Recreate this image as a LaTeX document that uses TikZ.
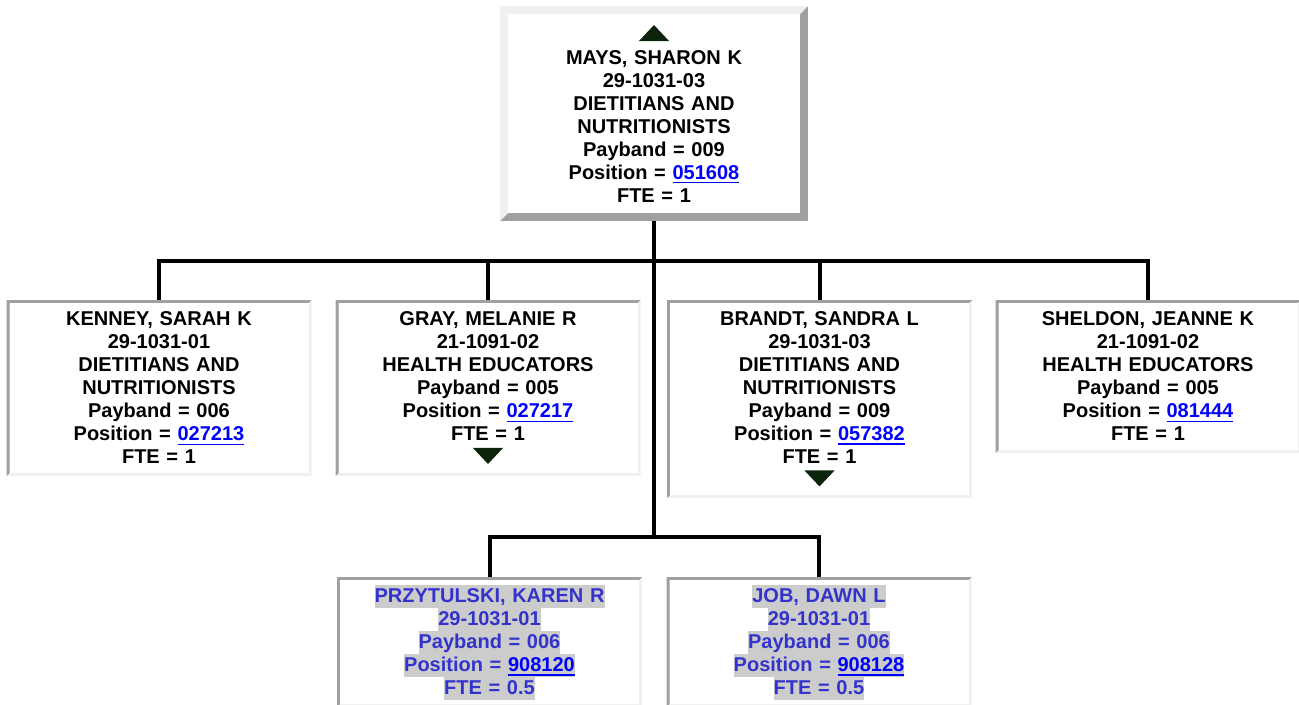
\documentclass[tikz,border=0pt]{standalone}
\usepackage{fontspec}
\setmainfont{Liberation Sans}
\definecolor{framedark}{RGB}{160,160,160}
\definecolor{framelite}{RGB}{240,240,240}
\definecolor{flaggreen}{RGB}{12,36,12}
\definecolor{linkblue}{RGB}{0,0,255}
\definecolor{vacblue}{RGB}{51,51,204}
\definecolor{hlgray}{RGB}{204,204,204}
\setlength{\fboxsep}{0pt}
% underlined position number
\newcommand{\poslink}[1]{\textcolor{linkblue}{\setbox0\hbox{#1}\rlap{\rule[-3.3pt]{\wd0}{1.4pt}}\box0}}
% grey band behind one line of a vacant post
\newcommand{\hlline}[1]{\colorbox{hlgray}{\rule[-3.43pt]{0pt}{17.25pt}#1}}
\newcommand{\flagup}{\tikz\fill[flaggreen] (0,0) -- (22.5pt,0) -- (11.25pt,12pt) -- cycle;}
\newcommand{\flagdown}{\tikz\fill[flaggreen] (0,12pt) -- (22.5pt,12pt) -- (11.25pt,0) -- cycle;}

\begin{document}
\begin{tikzpicture}[
    x=0.75pt, y=-0.75pt,
    every node/.style={font=\fontsize{15}{17.25}\selectfont\bfseries},
    bevel/.style n args={3}{fill=white, path picture={
        \coordinate (bl) at (path picture bounding box.south west);
        \coordinate (tl) at (path picture bounding box.north west);
        \coordinate (tr) at (path picture bounding box.north east);
        \fill[#2] (bl) rectangle (tr);
        \fill[#1] (bl) -- (tl) -- (tr) -- ([xshift=-#3,yshift=-#3]tr) -- ([xshift=#3,yshift=-#3]tl) -- ([xshift=#3,yshift=#3]bl) -- cycle;
        \fill[white] ([xshift=#3,yshift=#3]bl) rectangle ([xshift=-#3,yshift=-#3]tr);
      }},
    boss/.style={bevel={framelite}{framedark}{6pt}, inner sep=0pt, outer sep=0pt, anchor=north,
      minimum width=231pt, minimum height=161.25pt, text width=220pt, align=center},
    staff/.style={bevel={framedark}{framelite}{2.25pt}, inner sep=0pt, outer sep=0pt, anchor=north,
      minimum width=228.75pt, text width=218pt, align=center},
    vacant/.style={text=vacblue},
    wire/.style={line width=3pt}
  ]
    \useasboundingbox (0,0) rectangle (1299,704);

    \node[boss] (mays) at (654,6) {\flagup\\ MAYS, SHARON K\\ 29-1031-03\\ DIETITIANS AND\\ NUTRITIONISTS\\ Payband = 009\\ Position = \poslink{051608}\\ FTE = 1};

    \node[staff, minimum height=132pt] (kenney) at (159,300) {KENNEY, SARAH K\\ 29-1031-01\\ DIETITIANS AND\\ NUTRITIONISTS\\ Payband = 006\\ Position = \poslink{027213}\\ FTE = 1};
    \node[staff, minimum height=132pt] (gray) at (488,300) {GRAY, MELANIE R\\ 21-1091-02\\ HEALTH EDUCATORS\\ Payband = 005\\ Position = \poslink{027217}\\ FTE = 1\\ \flagdown};
    \node[staff, minimum height=148.5pt] (brandt) at (819.5,300) {BRANDT, SANDRA L\\ 29-1031-03\\ DIETITIANS AND\\ NUTRITIONISTS\\ Payband = 009\\ Position = \poslink{057382}\\ FTE = 1\\ \flagdown};
    \node[staff, minimum height=114.75pt] (sheldon) at (1148,300) {SHELDON, JEANNE K\\ 21-1091-02\\ HEALTH EDUCATORS\\ Payband = 005\\ Position = \poslink{081444}\\ FTE = 1};

    \node[staff, vacant, minimum height=97.5pt] (przytulski) at (489.5,577) {\hlline{PRZYTULSKI, KAREN R}\\ \hlline{29-1031-01}\\ \hlline{Payband = 006}\\ \hlline{Position = \poslink{908120}}\\ \hlline{FTE = 0.5}};
    \node[staff, vacant, minimum height=97.5pt] (job) at (819,577) {\hlline{JOB, DAWN L}\\ \hlline{29-1031-01}\\ \hlline{Payband = 006}\\ \hlline{Position = \poslink{908128}}\\ \hlline{FTE = 0.5}};

    \coordinate (lowbus) at (654,537);

    \draw[wire] (kenney.north) -- ++(0,-39) -| (sheldon.north);
    \draw[wire] (gray.north) -- ++(0,-39);
    \draw[wire] (brandt.north) -- ++(0,-39);
    \draw[wire] (mays.south) -- (lowbus);
    \draw[wire] (przytulski.north) -- ++(0,-40) -| (job.north);
  \end{tikzpicture}
\end{document}
